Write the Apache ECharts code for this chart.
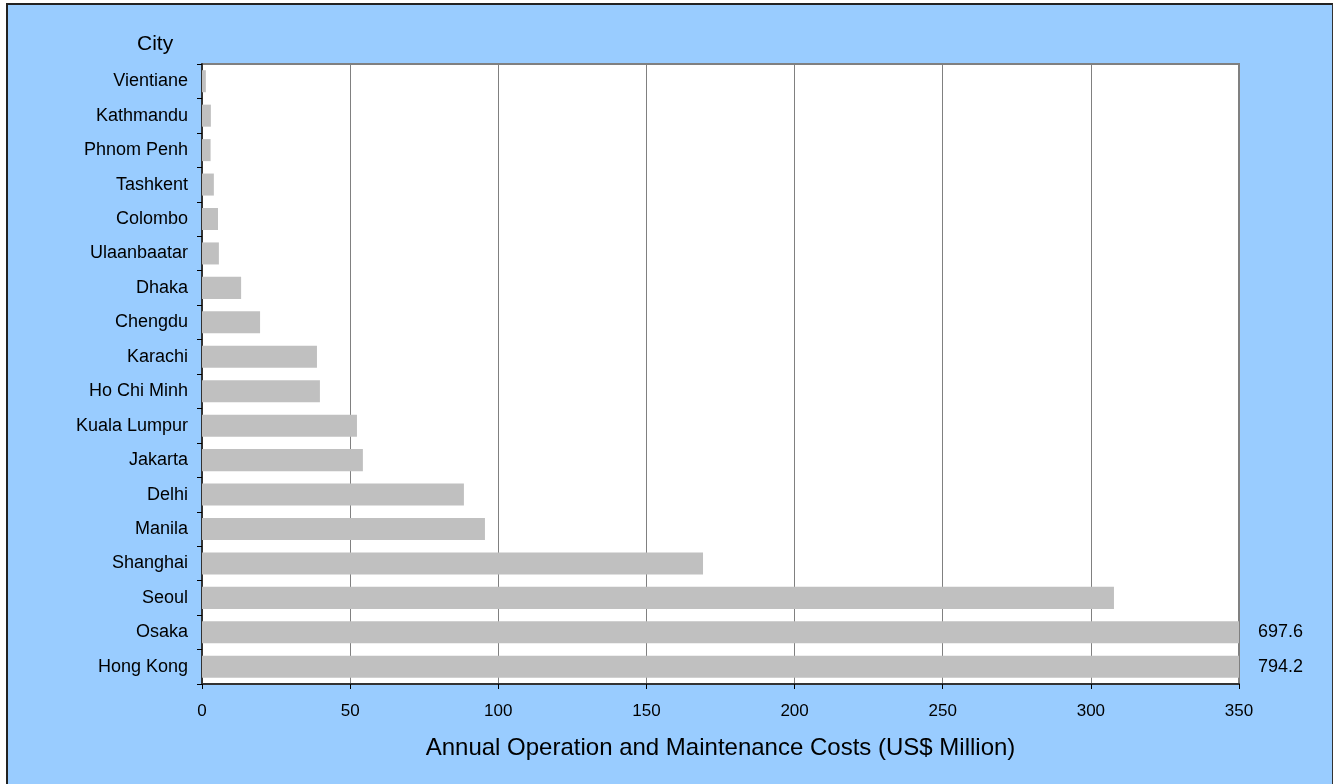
<!DOCTYPE html>
<html>
<head>
<meta charset="utf-8">
<script src="https://cdn.jsdelivr.net/npm/echarts@6/dist/echarts.min.js"></script>
<style>
  html, body { margin: 0; padding: 0; background: #ffffff; overflow: hidden; }
  #frame {
    position: absolute; left: 6px; top: 3px;
    border-top: 2px solid #222; border-left: 2px solid #222; border-right: 1px solid #333;
    background: #99ccff;
  }
  #chart { width: 1324px; height: 781px; }
</style>
</head>
<body>
<div id="frame"><div id="chart"></div></div>
<script>
// cities, top to bottom
const cities = ['Vientiane', 'Kathmandu', 'Phnom Penh', 'Tashkent', 'Colombo', 'Ulaanbaatar',
    'Dhaka', 'Chengdu', 'Karachi', 'Ho Chi Minh', 'Kuala Lumpur', 'Jakarta', 'Delhi',
    'Manila', 'Shanghai', 'Seoul', 'Osaka', 'Hong Kong'];
// annual O&M costs, US$ million
const costs = [1.3, 3.0, 2.9, 4.0, 5.4, 5.7, 13.2, 19.6, 38.8, 39.8, 52.3, 54.3, 88.4,
    95.5, 169.1, 307.8, 697.6, 794.2];
const xTicks = [0, 50, 100, 150, 200, 250, 300, 350];
const axisMax = 350;

// values past the axis end get their number written beside the plot
const overflowLabels = costs.map(v => v > axisMax ? v.toFixed(1) : '');

const chart = echarts.init(document.getElementById('chart'));
const font = 'Liberation Sans, Arial, sans-serif';

const option = {
    backgroundColor: '#99ccff',
    textStyle: { fontFamily: font },
    title: {
        text: 'City',
        left: 124,
        top: 24,
        textStyle: { fontFamily: font, fontSize: 21, fontWeight: 'normal', color: '#000' }
    },
    grid: {
        left: 194, right: 93, top: 59, bottom: 102,
        show: true,
        backgroundColor: '#ffffff',
        borderColor: '#808080',
        borderWidth: 2
    },
    xAxis: {
        type: 'value',
        min: xTicks[0],
        max: axisMax,
        interval: xTicks[1] - xTicks[0],
        name: 'Annual Operation and Maintenance Costs (US$ Million)',
        nameLocation: 'middle',
        nameGap: 52,
        nameTextStyle: { fontFamily: font, fontSize: 24, color: '#000' },
        axisLine: { show: true, lineStyle: { color: '#333', width: 2 } },
        axisTick: { show: true, length: 5, lineStyle: { color: '#000' } },
        axisLabel: { fontFamily: font, fontSize: 17, color: '#000', margin: 19 },
        splitLine: { show: true, lineStyle: { color: '#808080', width: 1 } }
    },
    yAxis: [
        {
            type: 'category',
            data: cities,
            inverse: true,
            axisLine: { show: true, onZero: false, lineStyle: { color: '#333', width: 2 } },
            axisTick: { show: true, length: 5, lineStyle: { color: '#000' } },
            axisLabel: { fontFamily: font, fontSize: 18, color: '#000', margin: 14, interval: 0 },
            splitLine: { show: false }
        },
        {
            type: 'category',
            data: cities,
            inverse: true,
            position: 'right',
            axisLine: { show: false },
            axisTick: { show: false },
            splitLine: { show: false },
            axisLabel: {
                fontFamily: font, fontSize: 18, color: '#000', margin: 19, interval: 0,
                align: 'left',
                formatter: (val, idx) => overflowLabels[idx]
            }
        }
    ],
    series: [
        {
            type: 'bar',
            data: costs,
            yAxisIndex: 0,
            clip: true,
            barCategoryGap: '36%',
            itemStyle: { color: '#c0c0c0' },
            silent: true
        }
    ]
};

chart.setOption(option);
</script>
</body>
</html>
